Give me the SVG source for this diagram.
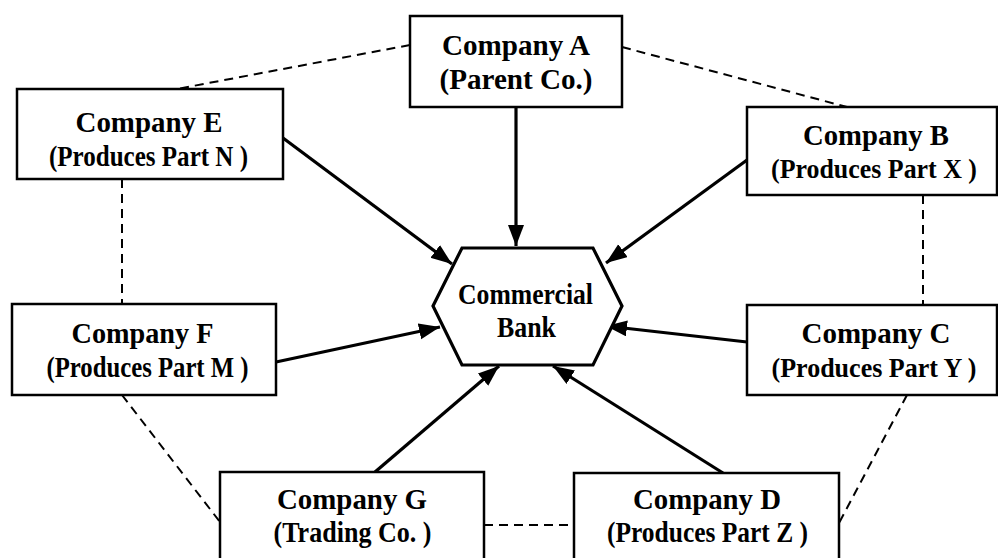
<svg xmlns="http://www.w3.org/2000/svg" width="998" height="558" viewBox="0 0 998 558">
<style>
.box{fill:#fff;stroke:#000;stroke-width:2.5}
.t{font-family:"Liberation Serif","Times New Roman",serif;font-weight:bold;font-size:30px;fill:#000;text-anchor:middle}
.n{font-size:28px}
.dash{fill:none;stroke:#000;stroke-width:2;stroke-dasharray:9 6}
.arr{fill:none;stroke:#000;stroke-width:3.2;marker-end:url(#ah)}
</style>
<defs>
<marker id="ah" markerUnits="userSpaceOnUse" markerWidth="24" markerHeight="18" refX="21" refY="8" orient="auto">
<path d="M0,0 L21,8 L0,16 z" fill="#000"/>
</marker>
</defs>
<rect width="998" height="558" fill="#fff"/>
<g id="connectors">
<line class="dash" x1="410" y1="45" x2="177" y2="89"/>
<line class="dash" x1="622" y1="47" x2="847" y2="107"/>
<line class="dash" x1="122" y1="179" x2="122" y2="304"/>
<line class="dash" x1="923" y1="195" x2="923" y2="305"/>
<line class="dash" x1="122" y1="395" x2="220" y2="522"/>
<line class="dash" x1="907" y1="395" x2="839" y2="523"/>
<line class="dash" x1="484" y1="525" x2="574" y2="525"/>
<line class="arr" x1="516" y1="107" x2="516" y2="246"/>
<line class="arr" x1="283" y1="138" x2="452" y2="264"/>
<line class="arr" x1="747" y1="160" x2="606" y2="263"/>
<line class="arr" x1="276" y1="362" x2="440" y2="327"/>
<line class="arr" x1="747" y1="342" x2="606" y2="326"/>
<line class="arr" x1="375" y1="472" x2="499" y2="366"/>
<line class="arr" x1="723" y1="473" x2="553" y2="366"/>
</g>
<g id="nodeA">
<rect class="box" x="410" y="16" width="212" height="91"/>
<text class="t" x="516" y="55" textLength="148" lengthAdjust="spacingAndGlyphs">Company A</text>
<text class="t" x="516" y="89" textLength="153" lengthAdjust="spacingAndGlyphs">(Parent Co.)</text>
</g>
<g id="nodeE">
<rect class="box" x="17" y="89" width="266" height="90"/>
<text class="t" x="149" y="132" textLength="147" lengthAdjust="spacingAndGlyphs">Company E</text>
<text class="t" x="148.5" y="166" textLength="199" lengthAdjust="spacingAndGlyphs">(Produces Part N )</text>
</g>
<g id="nodeB">
<rect class="box" x="747" y="107" width="250" height="88"/>
<text class="t" x="876" y="145" textLength="146" lengthAdjust="spacingAndGlyphs">Company B</text>
<text class="t n" x="874" y="178" textLength="206" lengthAdjust="spacingAndGlyphs">(Produces Part X )</text>
</g>
<g id="nodeF">
<rect class="box" x="12" y="304" width="264" height="91"/>
<text class="t" x="142.5" y="343" textLength="142" lengthAdjust="spacingAndGlyphs">Company F</text>
<text class="t" x="147.5" y="377" textLength="202" lengthAdjust="spacingAndGlyphs">(Produces Part M )</text>
</g>
<g id="nodeC">
<rect class="box" x="747" y="305" width="250" height="90"/>
<text class="t" x="876" y="343" textLength="149" lengthAdjust="spacingAndGlyphs">Company C</text>
<text class="t n" x="874" y="377" textLength="205" lengthAdjust="spacingAndGlyphs">(Produces Part Y )</text>
</g>
<g id="nodeG">
<rect class="box" x="220" y="472" width="264" height="100"/>
<text class="t" x="352" y="509" textLength="150" lengthAdjust="spacingAndGlyphs">Company G</text>
<text class="t" x="352.5" y="542" textLength="158" lengthAdjust="spacingAndGlyphs">(Trading Co. )</text>
</g>
<g id="nodeD">
<rect class="box" x="574" y="473" width="265" height="100"/>
<text class="t" x="707" y="509" textLength="148" lengthAdjust="spacingAndGlyphs">Company D</text>
<text class="t" x="707.5" y="542" textLength="201" lengthAdjust="spacingAndGlyphs">(Produces Part Z )</text>
</g>
<g id="bank">
<polygon points="433,306 462,248 593,248 622,306 593,365 462,365" fill="#fff" stroke="#000" stroke-width="3.2"/>
<text class="t" x="525.5" y="304" textLength="135" lengthAdjust="spacingAndGlyphs">Commercial</text>
<text class="t" x="526.5" y="337" textLength="59" lengthAdjust="spacingAndGlyphs">Bank</text>
</g>
</svg>
